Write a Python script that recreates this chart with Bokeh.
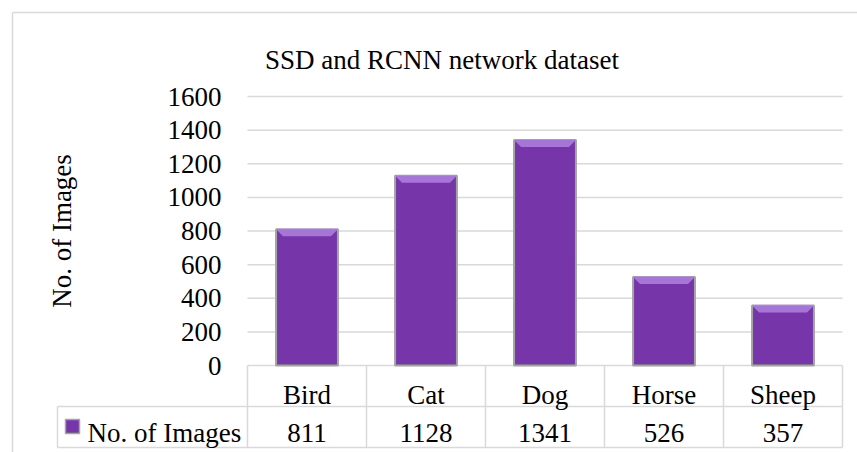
from bokeh.plotting import figure
from bokeh.models import Range1d, FixedTicker, ColumnDataSource
from bokeh.core.properties import value
from bokeh.embed import file_html
from bokeh.resources import INLINE

# ---------------- data ----------------
categories = ["Bird", "Cat", "Dog", "Horse", "Sheep"]
counts = [811, 1128, 1341, 526, 357]
y_ticks = [0, 200, 400, 600, 800, 1000, 1200, 1400, 1600]
title_text = "SSD and RCNN network dataset"
series_name = "No. of Images"
y_label = "No. of Images"

# ---------------- layout (page pixels) ----------------
W, H = 857, 452
OFF = 0
PLOT_L, PLOT_R = 247, 842
Y0_PX, YTOP_PX = 365, 96
ROW1_PX, ROW2_PX = 406, 447
LEG_L_PX = 57
COL_PX = (PLOT_R - PLOT_L) / len(categories)
UNIT_Y = (Y0_PX - YTOP_PX) / max(y_ticks)

FONT = "Liberation Serif"
FS = "27px"
GRID_C = "#d9d9d9"
BAR_C = "#7636A9"
BAR_LINE = "#a3a3a3"
BEVEL_C = "#A676D6"


def dx(px):
    return (px - PLOT_L) / COL_PX


def dy(py):
    return (Y0_PX - py) / UNIT_Y


p = figure(width=W, height=H,
           x_range=Range1d(dx(OFF), dx(OFF + W)),
           y_range=Range1d(dy(OFF + H), dy(OFF)),
           x_axis_location=None, y_axis_location="left",
           toolbar_location=None, output_backend="svg",
           min_border=0, outline_line_color=None)
p.xgrid.visible = False
p.ygrid.visible = False

# y axis placed at the plot-area left edge
ax = p.yaxis[0]
ax.fixed_location = 0
ax.bounds = (y_ticks[0], y_ticks[-1])
ax.ticker = FixedTicker(ticks=y_ticks)
ax.axis_line_color = None
ax.major_tick_line_color = None
ax.minor_tick_line_color = None
ax.major_tick_out = 0
ax.major_tick_in = 0
ax.major_label_standoff = 26
ax.major_label_text_font = FONT
ax.major_label_text_font_size = FS
ax.major_label_text_color = "black"
ax.axis_label = y_label
ax.axis_label_text_font = FONT
ax.axis_label_text_font_size = FS
ax.axis_label_text_font_style = "normal"
ax.axis_label_text_color = "black"
ax.axis_label_standoff = 88

n = len(categories)
xc = [i + 0.5 for i in range(n)]

# chart border (left and top)
p.segment(x0=[dx(12), dx(12)], y0=[dy(12), dy(12)],
          x1=[dx(12), dx(OFF + W + 10)], y1=[dy(OFF + H + 10), dy(12)],
          line_color=GRID_C, line_width=1.5)

# gridlines
p.segment(x0=[0] * len(y_ticks), x1=[n] * len(y_ticks), y0=y_ticks, y1=y_ticks,
          line_color=GRID_C, line_width=1.5)

# data table lines
hy = [dy(ROW1_PX), dy(ROW2_PX)]
p.segment(x0=[dx(LEG_L_PX)] * 2, x1=[n] * 2, y0=hy, y1=hy,
          line_color=GRID_C, line_width=1.5)
vx = list(range(n + 1))
p.segment(x0=vx, x1=vx, y0=[0] * len(vx), y1=[dy(ROW2_PX)] * len(vx),
          line_color=GRID_C, line_width=1.5)
p.segment(x0=[dx(LEG_L_PX)], x1=[dx(LEG_L_PX)], y0=[dy(ROW1_PX)], y1=[dy(ROW2_PX)],
          line_color=GRID_C, line_width=1.5)

# bars
bw = 0.52
src = ColumnDataSource(dict(x=xc, top=counts, cat=categories,
                            lab=[str(v) for v in counts]))
p.vbar(x="x", top="top", bottom=0, width=bw, source=src,
       fill_color=BAR_C, line_color=BAR_LINE, line_width=2)

# bevel highlight on top of bars
bx = 7 / COL_PX
by = 7 / UNIT_Y
xs, ys = [], []
for c, v in zip(xc, counts):
    xs.append([c - bw / 2, c + bw / 2, c + bw / 2 - bx, c - bw / 2 + bx])
    ys.append([v, v, v - by, v - by])
p.patches(xs=xs, ys=ys, fill_color=BEVEL_C, line_color=None)

# table texts
p.text(x="x", y=dy(394), text="cat", source=src, text_align="center",
       text_baseline="alphabetic", text_font=value(FONT), text_font_size=FS,
       text_color="black")
p.text(x="x", y=dy(432), text="lab", source=src, text_align="center",
       text_baseline="alphabetic", text_font=value(FONT), text_font_size=FS,
       text_color="black")

# legend key in table
p.scatter(x=[dx(72)], y=[dy(426)], marker="square", size=14,
          fill_color=BAR_C, line_color=BAR_LINE, line_width=1.5)
p.text(x=[dx(87)], y=[dy(432)], text=[series_name], text_align="left",
       text_baseline="alphabetic", text_font=value(FONT), text_font_size=FS,
       text_color="black")

# title
p.text(x=[dx(441.5)], y=[dy(59)], text=[title_text], text_align="center",
       text_baseline="alphabetic", text_font=value(FONT), text_font_size=FS,
       text_color="black")

open("out.html", "w").write(file_html(p, INLINE))
